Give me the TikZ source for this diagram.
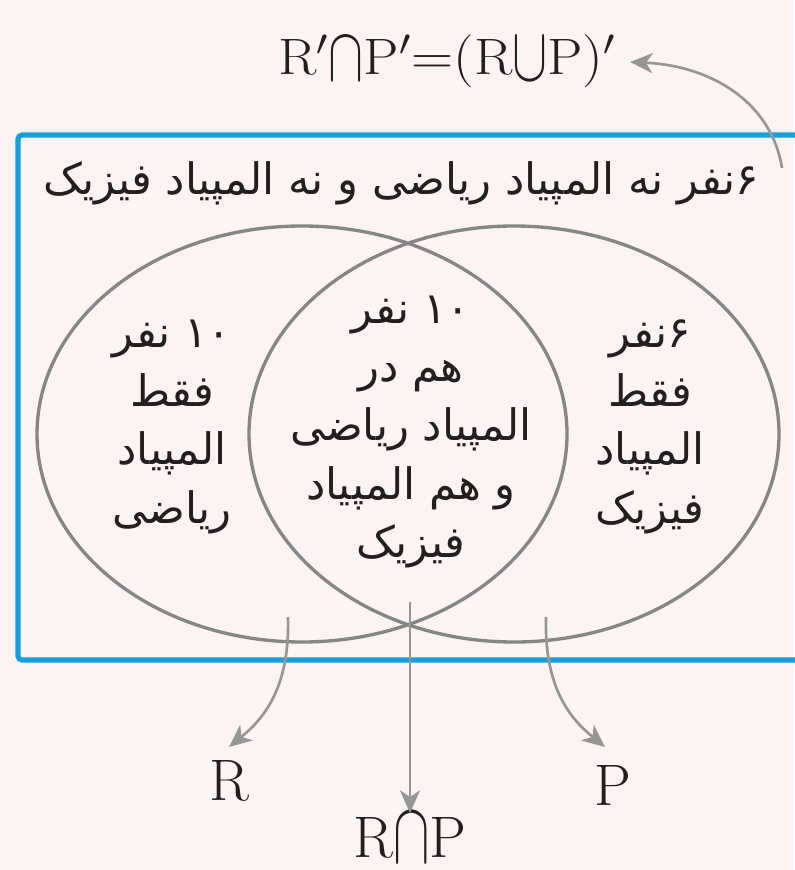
\documentclass[tikz,border=0pt]{standalone}
\usepackage{fontspec}
\usepackage{graphicx}
\usetikzlibrary{arrows.meta}
\TeXXeTstate=1
\newfontfamily\arabicfont[Script=Arabic]{DejaVu Sans}
\definecolor{bgpink}{RGB}{252,243,243}
\definecolor{boxblue}{RGB}{24,158,216}
\definecolor{ringgray}{RGB}{134,134,134}
\definecolor{arrgray}{RGB}{150,150,150}
\definecolor{inkblack}{RGB}{35,31,32}
\newcommand{\tcap}{\mathord{\raisebox{-0.1em}{\scalebox{0.9}[1.45]{$\cap$}}}}
\newcommand{\tcup}{\mathord{\raisebox{-0.1em}{\scalebox{0.9}[1.45]{$\cup$}}}}
\begin{document}
\begin{tikzpicture}[x=0.75pt,y=-0.75pt,
  ring/.style={draw=ringgray,line width=2.5pt},
  pointer/.style={draw=arrgray,line width=2pt,-{Stealth[length=17pt,width=15pt,inset=5pt]}},
  fatext/.style={text=inkblack,font=\arabicfont\fontsize{32.5}{44}\selectfont,align=center,inner sep=0pt},
  latlabel/.style={text=inkblack,font=\fontsize{24}{28}\selectfont,inner sep=0pt,anchor=base}]
\useasboundingbox (0,0) rectangle (794,870);
\fill[bgpink] (0,0) rectangle (794,870);
% universe box
\draw[boxblue,line width=3.8pt,rounded corners=3pt] (18,135) rectangle (830,660);
% sets
\draw[ring] (302,434) ellipse [x radius=265,y radius=208];
\draw[ring] (514,434) ellipse [x radius=265,y radius=208];
% texts
\node[fatext] (outside) at (401,183) {\beginR ۶نفر نه المپیاد ریاضی و نه المپیاد فیزیک\endR};
\node[fatext] (onlyR) at (172,427) {\beginR ۱۰ نفر\endR\\\beginR فقط\endR\\\beginR المپیاد\endR\\\beginR ریاضی\endR};
\node[fatext] (both) at (411,432) {\beginR ۱۰ نفر\endR\\\beginR هم در\endR\\\beginR المپیاد ریاضی\endR\\\beginR و هم المپیاد\endR\\\beginR فیزیک\endR};
\node[fatext] (onlyP) at (650,427) {\beginR ۶نفر\endR\\\beginR فقط\endR\\\beginR المپیاد\endR\\\beginR فیزیک\endR};
% labels
\node[latlabel] (compl) at (447,75) {\scalebox{1.76}[1.6]{$\mathrm{R}'{\tcap}\mathrm{P}'{=}(\mathrm{R}{\tcup}\mathrm{P})'$}};
\node[latlabel] (labR) at (229,800) {\scalebox{1.83}{R}};
\node[latlabel] (labP) at (613,805) {\scalebox{1.83}{P}};
\node[latlabel] (labRP) at (410,857) {\scalebox{1.83}{$\mathrm{R}{\tcap}\mathrm{P}$}};
% arrow anchors
\coordinate (sR) at (288,617);
\coordinate (tR) at (229,747);
\coordinate (sP) at (546,617);
\coordinate (tP) at (605,747);
\coordinate (sRP) at (410,602);
\coordinate (tRP) at (410,813);
\coordinate (sOut) at (782,168);
\coordinate (tOut) at (630,62);
\draw[pointer] (sR) .. controls (290,690) and (262,720) .. (tR);
\draw[pointer] (sP) .. controls (544,690) and (572,720) .. (tP);
\draw[pointer] (sRP) -- (tRP);
\draw[pointer] (sOut) .. controls (772,105) and (715,66) .. (tOut);
\end{tikzpicture}
\end{document}
